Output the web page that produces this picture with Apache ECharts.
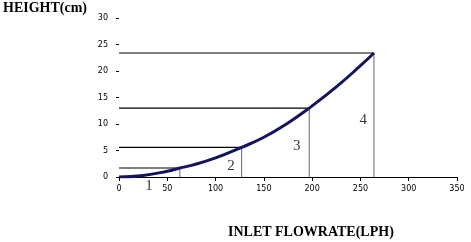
<!DOCTYPE html>
<html>
<head>
    <meta charset="utf-8">
    <title>Height vs inlet flowrate</title>
    <script src="https://cdn.jsdelivr.net/npm/echarts@6/dist/echarts.min.js"></script>
</head>
<body style="margin:0">
    <div id="main" style="width: 471px;height:242px;"></div>
<script>
// curve
var flowrate = [0, 25, 50, 63, 75, 100, 127, 150, 175, 197, 225, 250, 264];
var height = [0, 0.3, 1.1, 1.7, 2.2, 3.6, 5.6, 7.5, 10.2, 13, 17, 21, 23.4];
// stage boundaries
var stageFlow = [63, 127, 197, 264];
var stageHeight = [1.7, 5.6, 13, 23.4];
// stage labels
var stageNames = ['1', '2', '3', '4'];
var stageLabelX = [31, 116, 184, 253];
var stageLabelY = [-1.7, 2.1, 5.8, 10.8];

var xTicks = [0, 350, 50];
var yTicks = [0, 30, 5];

var myChart = echarts.init(document.getElementById('main'));

var series = [];
// horizontal and vertical guide lines
for (var i = 0; i < stageFlow.length; i++) {
    series.push({
        type: 'line', symbol: 'none', silent: true,
        lineStyle: {color: '#000', width: 1.2},
        data: [[0, stageHeight[i]], [stageFlow[i], stageHeight[i]]]
    });
    series.push({
        type: 'line', symbol: 'none', silent: true,
        lineStyle: {color: '#666', width: 1},
        data: [[stageFlow[i], 0], [stageFlow[i], stageHeight[i]]]
    });
}
series.push({
    type: 'line',
    smooth: true,
    symbol: 'none',
    lineStyle: {color: '#14145e', width: 3},
    data: flowrate.map(function (x, i) { return [x, height[i]]; })
});
series.push({
    type: 'scatter',
    symbolSize: 0,
    clip: false,
    label: {
        show: true,
        position: 'inside',
        fontFamily: 'Liberation Serif',
        fontSize: 15,
        color: '#000',
        formatter: function (p) { return stageNames[p.dataIndex]; }
    },
    data: stageLabelX.map(function (x, i) { return [x, stageLabelY[i]]; })
});

myChart.setOption({
    animation: false,
    grid: {left: 119, right: 14, top: 18, bottom: 65},
    graphic: [
        {type: 'text', left: 3, top: 1, style: {text: 'HEIGHT(cm)', fontFamily: 'Liberation Serif', fontSize: 14, fontWeight: 'bold', fill: '#000'}},
        {type: 'text', left: 228, top: 225, style: {text: 'INLET FLOWRATE(LPH)', fontFamily: 'Liberation Serif', fontSize: 14, fontWeight: 'bold', fill: '#000'}}
    ],
    xAxis: {
        type: 'value',
        min: xTicks[0], max: xTicks[1], interval: xTicks[2],
        axisLine: {lineStyle: {color: '#000', width: 1}},
        axisTick: {show: true, length: 4, lineStyle: {color: '#000'}},
        splitLine: {show: false},
        axisLabel: {color: '#000', fontFamily: 'DejaVu Sans', fontSize: 8, margin: 8}
    },
    yAxis: {
        type: 'value',
        min: yTicks[0], max: yTicks[1], interval: yTicks[2],
        axisLine: {show: false},
        axisTick: {show: true, length: 3, lineStyle: {color: '#000'}},
        splitLine: {show: false},
        axisLabel: {color: '#000', fontFamily: 'DejaVu Sans', fontSize: 8, margin: 11}
    },
    series: series
});
</script>
</body>
</html>
